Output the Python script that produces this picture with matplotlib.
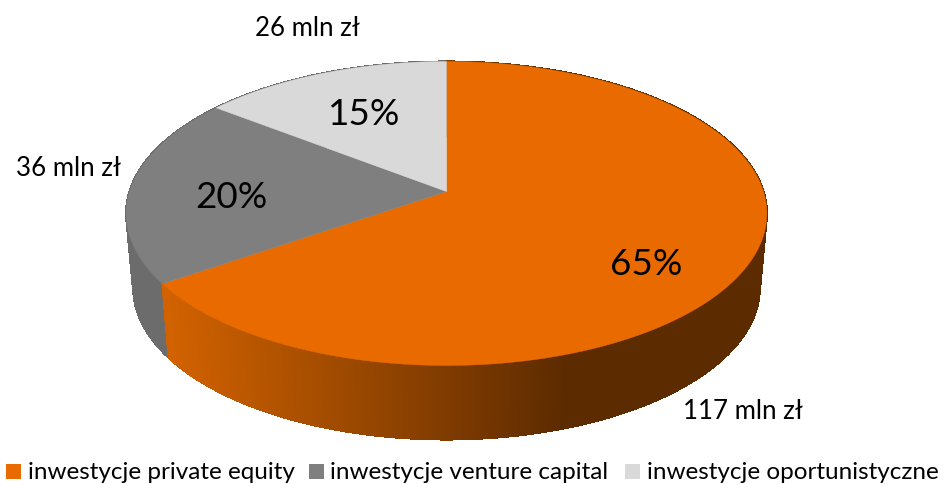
import numpy as np
import matplotlib
matplotlib.use("Agg")
import matplotlib.pyplot as plt
from matplotlib.patches import Polygon, Rectangle
from matplotlib.colors import to_rgb

categories = ["inwestycje private equity", "inwestycje venture capital", "inwestycje oportunistyczne"]
amounts = [117, 36, 26]
share_labels = ["65%", "20%", "15%"]
amount_labels = ["117 mln zł", "36 mln zł", "26 mln zł"]
top_colors = ["#E96B00", "#7F7F7F", "#D9D9D9"]

W, H = 943, 485
plt.rcParams['font.family'] = ['Lato', 'DejaVu Sans']
fig = plt.figure(figsize=(W/100, H/100), dpi=100)
ax = fig.add_axes([0, 0, 1, 1])
ax.set_xlim(0, W); ax.set_ylim(H, 0); ax.axis('off')

CX, CY, A, B, K = 446.5, 192.5, 317, 148.8, 0.1447
def top(t):
    w = 1 + K*np.cos(t)
    return CX + A*np.sin(t)/w, CY - B*np.cos(t)/w
def bottom(t):
    x, y = top(t)
    return CX + (x-CX)*0.978, CY + (y-CY) + 74

def side_color(x, i):
    if i == 0:
        f = np.clip((x-165)/(565-165), 0, 1)
        return tuple((1-f)*np.array(to_rgb("#D26200")) + f*np.array(to_rgb("#5C2B00")))
    return "#6C6C6C"

edges = 2*np.pi*np.cumsum([0] + amounts)/sum(amounts)
# side walls: strips along the visible rim
for i in range(len(amounts)):
    ts = np.linspace(edges[i], edges[i+1], 500)
    for a, b in zip(ts[:-1], ts[1:]):
        xa, ya = top(a); xb, yb = top(b)
        xc, yc = bottom(b); xd, yd = bottom(a)
        c = side_color((xa+xb)/2, i)
        ax.add_patch(Polygon([(xa,ya),(xb,yb),(xc,yc),(xd,yd)], fc=c, ec=c, lw=0.8,
                             antialiased=False, zorder=2 if i == 0 else 1))
# top faces
for i in range(len(amounts)):
    ts = np.linspace(edges[i], edges[i+1], 300)
    x, y = top(ts)
    pts = np.column_stack([np.r_[CX, x], np.r_[CY, y]])
    ax.add_patch(Polygon(pts, fc=top_colors[i], ec=top_colors[i], lw=0.3, zorder=3))

# percentage labels
for s, (px, py) in zip(share_labels, [(646.5, 265), (231, 198), (364, 114.5)]):
    ax.text(px, py, s, fontsize=26.5, ha='center', va='center', color='black', zorder=5)
# amount labels
for t, (px, py) in zip(amount_labels, [(743, 412), (68, 169), (307.5, 28)]):
    ax.text(px, py, t, fontsize=18.6, ha='center', va='center', color='black', zorder=5)

# legend
for c, name, bx, tx in zip(top_colors, categories, [6, 309, 625], [28, 330, 647]):
    ax.add_patch(Rectangle((bx, 465), 15, 15, fc=c, ec='none'))
    ax.text(tx, 473, name, fontsize=17.5, ha='left', va='center', color='black')

fig.savefig("out.png", dpi=100)
